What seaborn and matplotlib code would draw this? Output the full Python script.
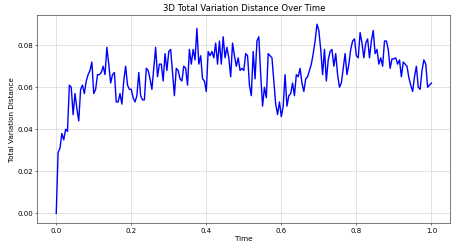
import numpy as np
import matplotlib
matplotlib.use("Agg")
import matplotlib.pyplot as plt
import seaborn as sns

# time axis: 201 samples from 0 to 1
time = np.linspace(0.0, 1.0, 201)

tvd = [
    0.000, 0.029, 0.031, 0.038, 0.035, 0.040, 0.039, 0.061, 0.060, 0.047,
    0.057, 0.050, 0.044, 0.059, 0.061, 0.057, 0.063, 0.066, 0.068, 0.072,
    0.057, 0.059, 0.066, 0.066, 0.067, 0.070, 0.066, 0.079, 0.071, 0.062,
    0.066, 0.067, 0.053, 0.053, 0.057, 0.052, 0.063, 0.070, 0.061, 0.059,
    0.059, 0.055, 0.053, 0.056, 0.067, 0.056, 0.054, 0.054, 0.069, 0.068,
    0.064, 0.059, 0.069, 0.079, 0.065, 0.071, 0.071, 0.063, 0.076, 0.068,
    0.077, 0.078, 0.067, 0.056, 0.069, 0.068, 0.064, 0.063, 0.070, 0.069,
    0.061, 0.078, 0.071, 0.078, 0.073, 0.088, 0.071, 0.075, 0.064, 0.063,
    0.058, 0.077, 0.075, 0.077, 0.074, 0.081, 0.071, 0.082, 0.071, 0.084,
    0.074, 0.079, 0.074, 0.065, 0.081, 0.075, 0.070, 0.074, 0.068, 0.069,
    0.068, 0.076, 0.075, 0.061, 0.056, 0.077, 0.064, 0.082, 0.084, 0.066,
    0.051, 0.060, 0.055, 0.076, 0.075, 0.074, 0.063, 0.052, 0.047, 0.053,
    0.046, 0.051, 0.066, 0.051, 0.056, 0.057, 0.062, 0.056, 0.066, 0.065,
    0.069, 0.062, 0.058, 0.064, 0.065, 0.068, 0.071, 0.076, 0.082, 0.090,
    0.087, 0.078, 0.066, 0.078, 0.063, 0.073, 0.077, 0.078, 0.070, 0.076,
    0.066, 0.060, 0.062, 0.069, 0.076, 0.066, 0.071, 0.078, 0.082, 0.083,
    0.075, 0.074, 0.086, 0.081, 0.074, 0.081, 0.083, 0.074, 0.082, 0.087,
    0.076, 0.078, 0.071, 0.074, 0.070, 0.082, 0.082, 0.078, 0.069, 0.0735,
    0.0735, 0.074, 0.071, 0.073, 0.065, 0.072, 0.071, 0.070, 0.0645, 0.061,
    0.058, 0.065, 0.070, 0.060, 0.059, 0.068, 0.073, 0.071, 0.060, 0.061,
    0.062,
]

fig, ax = plt.subplots(figsize=(10, 5.5), dpi=45.7)
sns.lineplot(x=time, y=tvd, color="blue", linewidth=2.2, ax=ax)
ax.set_title("3D Total Variation Distance Over Time", fontsize=13.5)
ax.set_xlabel("Time", fontsize=11.5)
ax.set_ylabel("Total Variation Distance", fontsize=11.5)
ax.tick_params(labelsize=11)
ax.grid(True, color="#c8c8c8")
fig.subplots_adjust(left=0.082, right=0.985, top=0.94, bottom=0.112)
fig.savefig("out.png", dpi=45.7)
